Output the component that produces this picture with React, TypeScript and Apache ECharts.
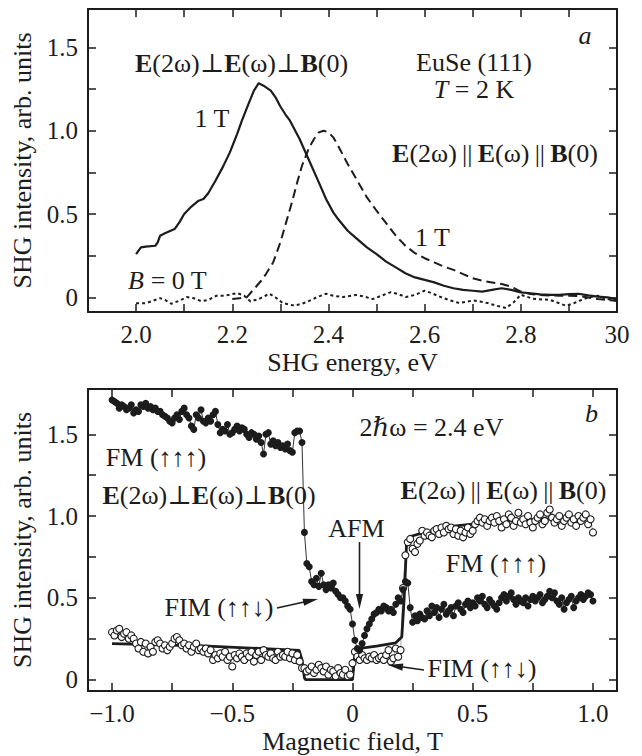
import React, { useEffect, useRef } from 'react';
import * as echarts from 'echarts';

const INK = '#1c1c1c';
const FONT = 'Liberation Serif, Times New Roman, DejaVu Serif, serif';

// ---------- Panel a: SHG spectra ----------
const energyTickValues = [1.9, 2.0, 2.1, 2.2, 2.3, 2.4, 2.5, 2.6, 2.7, 2.8, 2.9, 3.0];
const energyLabelValues = [2.0, 2.2, 2.4, 2.6, 2.8, 3.0];
const energyLabels = ['2.0', '2.2', '2.4', '2.6', '2.8', '30'];
const intensityTickValues = [0, 0.25, 0.5, 0.75, 1.0, 1.25, 1.5];
const intensityLabelValues = [0, 0.5, 1.0, 1.5];
const intensityLabels = ['0', '0.5', '1.0', '1.5'];

const perp1T: [number, number][] = [
  [2.0, 0.26], [2.01, 0.3], [2.02, 0.305], [2.04, 0.31], [2.045, 0.33], [2.05, 0.37], [2.06, 0.385],
  [2.08, 0.41], [2.09, 0.45], [2.1, 0.5], [2.115, 0.545], [2.13, 0.58], [2.14, 0.59], [2.15, 0.625],
  [2.165, 0.7], [2.18, 0.78], [2.195, 0.87], [2.21, 0.98], [2.22, 1.06], [2.235, 1.17], [2.245, 1.24],
  [2.255, 1.285], [2.265, 1.27], [2.28, 1.24], [2.29, 1.2], [2.3, 1.145], [2.31, 1.1], [2.32, 1.06],
  [2.34, 0.95], [2.36, 0.82], [2.38, 0.69], [2.395, 0.59], [2.41, 0.51], [2.42, 0.47], [2.44, 0.4],
  [2.46, 0.35], [2.48, 0.3], [2.5, 0.26], [2.52, 0.215], [2.54, 0.18], [2.56, 0.145], [2.58, 0.12],
  [2.6, 0.105], [2.62, 0.09], [2.64, 0.07], [2.66, 0.055], [2.68, 0.045], [2.7, 0.04], [2.72, 0.035],
  [2.74, 0.045], [2.76, 0.055], [2.78, 0.045], [2.8, 0.03], [2.82, 0.025], [2.84, 0.018], [2.86, 0.015],
  [2.88, 0.015], [2.9, 0.02], [2.92, 0.022], [2.94, 0.012], [2.96, 0.005], [2.98, 0.0], [3.0, -0.01],
];

const par1T: [number, number][] = [
  [2.2, -0.01], [2.215, -0.005], [2.23, 0.0], [2.245, 0.05], [2.26, 0.1], [2.27, 0.14], [2.285, 0.21],
  [2.3, 0.33], [2.312, 0.45], [2.325, 0.58], [2.335, 0.69], [2.345, 0.79], [2.36, 0.9], [2.37, 0.95],
  [2.38, 0.99], [2.39, 1.0], [2.4, 0.99], [2.41, 0.96], [2.42, 0.91], [2.44, 0.8], [2.46, 0.7],
  [2.48, 0.6], [2.5, 0.52], [2.52, 0.445], [2.54, 0.37], [2.56, 0.31], [2.58, 0.265], [2.6, 0.235],
  [2.62, 0.21], [2.64, 0.185], [2.66, 0.165], [2.68, 0.14], [2.7, 0.115], [2.72, 0.1], [2.74, 0.09],
  [2.76, 0.08], [2.78, 0.065], [2.8, 0.035], [2.82, 0.02], [2.84, 0.015], [2.86, 0.012], [2.88, 0.01],
  [2.9, 0.01], [2.92, 0.008], [2.94, 0.0], [2.96, -0.01], [3.0, -0.02],
];

const zeroField: [number, number][] = [
  [2.0, -0.035], [2.02, -0.035], [2.035, -0.02], [2.05, -0.004], [2.06, -0.015], [2.073, -0.038],
  [2.09, -0.02], [2.105, 0.002], [2.12, -0.005], [2.135, -0.022], [2.15, -0.015], [2.167, 0.01],
  [2.185, 0.01], [2.2, 0.02], [2.21, 0.026], [2.225, 0.01], [2.238, -0.024], [2.255, -0.01],
  [2.277, 0.022], [2.29, 0.0], [2.305, -0.034], [2.33, -0.05], [2.353, -0.03], [2.375, 0.0],
  [2.395, 0.022], [2.41, 0.01], [2.43, 0.002], [2.457, 0.015], [2.475, 0.005], [2.492, -0.01],
  [2.51, 0.01], [2.53, 0.032], [2.545, 0.02], [2.561, 0.002], [2.58, 0.015], [2.6, 0.04],
  [2.615, 0.025], [2.63, 0.006], [2.65, -0.015], [2.672, -0.034], [2.69, -0.025], [2.7, -0.018],
  [2.715, -0.025], [2.731, -0.034], [2.75, -0.05], [2.769, -0.064], [2.785, -0.03], [2.8, 0.016],
  [2.825, -0.008], [2.845, -0.012], [2.86, -0.014], [2.88, -0.035], [2.894, -0.05], [2.91, -0.035],
  [2.922, -0.02], [2.94, 0.0], [2.96, 0.01], [2.98, -0.01], [3.0, -0.02],
];

// ---------- Panel b: field dependence ----------
const fieldTickValues = [-1.0, -0.75, -0.5, -0.25, 0, 0.25, 0.5, 0.75, 1.0];
const fieldLabelValues = [-1.0, -0.5, 0, 0.5, 1.0];
const fieldLabels = ['\u22121.0', '\u22120.5', '0', '0.5', '1.0'];
const FIELD_START = -1.0;
const FIELD_STEP = 0.01;

// E(2w) perp E(w) perp B(0), filled circles
const perpField: number[] = [
  1.71, 1.70, 1.69, 1.66, 1.68, 1.67, 1.65, 1.66, 1.68, 1.63, 1.65,
  1.64, 1.68, 1.67, 1.69, 1.66, 1.67, 1.65, 1.66, 1.64, 1.64,
  1.62, 1.61, 1.60, 1.58, 1.57, 1.60, 1.62, 1.59, 1.64, 1.66,
  1.62, 1.60, 1.55, 1.53, 1.62, 1.60, 1.65, 1.58, 1.57, 1.60,
  1.58, 1.62, 1.64, 1.56, 1.51, 1.53, 1.52, 1.56, 1.50, 1.51,
  1.53, 1.55, 1.52, 1.54, 1.53, 1.50, 1.48, 1.51, 1.50, 1.47,
  1.49, 1.45, 1.38, 1.50, 1.51, 1.44, 1.46, 1.43, 1.45, 1.42,
  1.43, 1.41, 1.44, 1.40, 1.39, 1.51, 1.52, 1.52,
  1.45,
  0.90, 0.71, 0.69, 0.60, 0.58, 0.62, 0.57, 0.65, 0.58, 0.55,
  0.58, 0.56, 0.59, 0.54, 0.52, 0.50, 0.50, 0.48, 0.45, 0.43,
  0.34,
  0.24, 0.19, 0.18, 0.22, 0.27, 0.31, 0.34, 0.37, 0.40, 0.41,
  0.43, 0.42, 0.45, 0.44, 0.42, 0.43, 0.41, 0.46, 0.50, 0.48,
  0.55, 0.60, 0.59, 0.44, 0.35, 0.39, 0.36, 0.40, 0.38, 0.37,
  0.42, 0.39, 0.45, 0.41, 0.44, 0.38, 0.43, 0.46, 0.40, 0.42,
  0.44, 0.39, 0.45, 0.47, 0.43, 0.41, 0.46, 0.48, 0.44, 0.47,
  0.45, 0.50, 0.48, 0.51, 0.46, 0.44, 0.49, 0.47, 0.45, 0.43,
  0.47, 0.50, 0.52, 0.48, 0.51, 0.53, 0.49, 0.46, 0.50, 0.48,
  0.47, 0.50, 0.45, 0.49, 0.51, 0.48, 0.50, 0.52, 0.47, 0.49,
  0.51, 0.54, 0.50, 0.53, 0.48, 0.46, 0.50, 0.43, 0.47, 0.49,
  0.51, 0.44, 0.48, 0.50, 0.52, 0.49, 0.51, 0.53, 0.52, 0.48,
];

// E(2w) || E(w) || B(0), open circles
const parField: number[] = [
  0.29, 0.27, 0.30, 0.31, 0.26, 0.28, 0.29, 0.25, 0.27, 0.25, 0.22,
  0.19, 0.23, 0.17, 0.22, 0.16, 0.20, 0.17, 0.23, 0.24, 0.22,
  0.19, 0.21, 0.18, 0.20, 0.22, 0.25, 0.26, 0.24, 0.21, 0.22,
  0.19, 0.21, 0.17, 0.20, 0.22, 0.18, 0.19, 0.17, 0.19, 0.16,
  0.18, 0.12, 0.15, 0.13, 0.16, 0.14, 0.17, 0.12, 0.14, 0.08,
  0.15, 0.13, 0.16, 0.14, 0.12, 0.16, 0.14, 0.17, 0.11, 0.15,
  0.17, 0.12, 0.18, 0.15, 0.14, 0.16, 0.13, 0.12, 0.17, 0.14,
  0.15, 0.14, 0.17, 0.13, 0.16, 0.12, 0.15, 0.11,
  0.07,
  0.07, 0.05, 0.06, 0.08, 0.04, 0.06, 0.09, 0.07, 0.05, 0.08,
  0.03, 0.06, 0.05, 0.02, 0.07, 0.04, 0.03, 0.06, 0.02, 0.03,
  0.10,
  0.17, 0.14, 0.12, 0.15, 0.13, 0.12, 0.14, 0.13, 0.15, 0.12,
  0.13, 0.14, 0.12, 0.15, 0.18, 0.11, 0.13, 0.19, 0.14, 0.18,
  0.56, 0.76, 0.84, 0.86, 0.80, 0.78, 0.83, 0.85, 0.91, 0.88,
  0.90, 0.88, 0.87, 0.91, 0.92, 0.89, 0.93, 0.90, 0.94, 0.92,
  0.93, 0.89, 0.92, 0.88, 0.91, 0.87, 0.90, 0.93, 0.89, 0.91,
  0.95, 0.97, 0.99, 0.96, 0.98, 0.94, 0.97, 0.99, 0.96, 1.00,
  0.97, 0.93, 0.98, 0.95, 1.01, 0.99, 0.94, 0.97, 1.02, 0.96,
  0.98, 0.95, 1.00, 0.96, 0.93, 0.97, 0.99, 1.01, 0.95, 0.97,
  1.02, 1.04, 0.99, 0.96, 0.98, 1.00, 0.94, 0.97, 0.99, 1.01,
  0.96, 0.98, 0.94, 1.00, 0.97, 0.99, 1.01, 0.95, 0.98, 0.90,
];

// fitted curve for the parallel geometry
const parFit: [number, number][] = [
  [-1.0, 0.22], [-0.6, 0.205], [-0.222, 0.178], [-0.21, 0.12], [-0.2, 0.01], [-0.195, 0.0],
  [0.0, 0.0], [0.005, 0.08], [0.01, 0.16], [0.03, 0.19], [0.1, 0.205], [0.18, 0.225],
  [0.205, 0.26], [0.215, 0.5], [0.225, 0.84], [0.24, 0.875], [0.3, 0.9], [0.4, 0.935],
  [0.5, 0.95], [0.6, 0.965], [0.7, 0.975], [0.85, 0.985], [1.0, 0.99],
];

const toPairs = (vals: number[]): [number, number][] =>
  vals.map((v, i) => [+(FIELD_START + i * FIELD_STEP).toFixed(2), v]);

function labelFor(values: number[], labels: string[]) {
  return (v: number) => {
    const i = values.findIndex((t) => Math.abs(t - v) < 1e-6);
    return i >= 0 ? labels[i] : '';
  };
}

const tickStyle = { fontFamily: FONT, fontSize: 25, color: INK };
const nameStyle = { fontFamily: FONT, fontSize: 26, color: INK };

function makeX(gridIndex: number, min: number, max: number, ticks: number[], lv: number[] | null, labels: string[] | null, name: string, pos: 'top' | 'bottom') {
  const main = pos === 'bottom';
  return {
    type: 'value', gridIndex, min, max, position: pos,
    axisLine: { show: true, onZero: false, lineStyle: { color: INK, width: 2 } },
    axisTick: { show: true, inside: true, length: 8, customValues: ticks, lineStyle: { color: INK, width: 1.5 } },
    axisLabel: main
      ? { show: true, customValues: lv, formatter: labelFor(lv as number[], labels as string[]), margin: 10, ...tickStyle }
      : { show: false },
    splitLine: { show: false },
    name: main ? name : '', nameLocation: 'middle', nameGap: 37, nameTextStyle: nameStyle,
  };
}

function makeY(gridIndex: number, min: number, max: number, pos: 'left' | 'right') {
  const main = pos === 'left';
  return {
    type: 'value', gridIndex, min, max, position: pos,
    axisLine: { show: true, onZero: false, lineStyle: { color: INK, width: 2 } },
    axisTick: { show: true, inside: true, length: 8, customValues: intensityTickValues, lineStyle: { color: INK, width: 1.5 } },
    axisLabel: main
      ? { show: true, customValues: intensityLabelValues, formatter: labelFor(intensityLabelValues, intensityLabels), margin: 10, ...tickStyle }
      : { show: false },
    splitLine: { show: false },
    name: main ? 'SHG intensity, arb. units' : '', nameLocation: 'middle', nameGap: 45, nameTextStyle: nameStyle,
  };
}

const richBase = { fontFamily: FONT, fontSize: 26, fill: INK, color: INK, lineHeight: 22 };
const rich = {
  n: { ...richBase },
  b: { ...richBase, fontWeight: 'bold' },
  i: { ...richBase, fontStyle: 'italic' },
};

function txt(x: number, y: number, text: string) {
  return {
    type: 'text', x, y, z: 100,
    style: {
      text, rich, fill: INK, font: `26px ${FONT}`, lineHeight: 22,
      align: 'center', verticalAlign: 'middle', textAlign: 'center', textVerticalAlign: 'middle',
    },
  };
}

function arrow(x1: number, y1: number, x2: number, y2: number) {
  const dx = x2 - x1, dy = y2 - y1;
  const L = Math.hypot(dx, dy);
  const ux = dx / L, uy = dy / L;
  const hl = 15, hw = 3.6;
  const bx = x2 - ux * hl, by = y2 - uy * hl;
  return [
    { type: 'line', z: 100, shape: { x1, y1, x2: bx + ux * 2, y2: by + uy * 2 }, style: { stroke: INK, lineWidth: 1.6 } },
    {
      type: 'polygon', z: 100,
      shape: { points: [[x2, y2], [bx - uy * hw, by + ux * hw], [bx + uy * hw, by - ux * hw]] },
      style: { fill: INK },
    },
  ];
}

const PERP = '{b|E}{n|(2\u03c9)\u22a5}{b|E}{n|(\u03c9)\u22a5}{b|B}{n|(0)}';
const PAR = '{b|E}{n|(2\u03c9)\u2009||\u2009}{b|E}{n|(\u03c9)\u2009||\u2009}{b|B}{n|(0)}';

export default function App() {
  const ref = useRef<HTMLDivElement>(null);
  useEffect(() => {
    document.body.style.margin = '0';
    const chart = echarts.init(ref.current as HTMLDivElement, null, { renderer: 'svg' });
    chart.setOption({
      animation: false,
      backgroundColor: '#ffffff',
      grid: [
        { left: 88, top: 9, right: 25, bottom: 444 },
        { left: 88, top: 389, right: 25, bottom: 65 },
      ],
      xAxis: [
        makeX(0, 1.9, 3.0, energyTickValues, energyLabelValues, energyLabels, 'SHG energy, eV', 'bottom'),
        makeX(0, 1.9, 3.0, energyTickValues, null, null, '', 'top'),
        makeX(1, -1.1, 1.1, fieldTickValues, fieldLabelValues, fieldLabels, 'Magnetic field, T', 'bottom'),
        makeX(1, -1.1, 1.1, fieldTickValues, null, null, '', 'top'),
      ],
      yAxis: [
        makeY(0, -0.0875, 1.73, 'left'),
        makeY(0, -0.0875, 1.73, 'right'),
        makeY(1, -0.07, 1.777, 'left'),
        makeY(1, -0.07, 1.777, 'right'),
      ],
      series: [
        {
          type: 'line', xAxisIndex: 0, yAxisIndex: 0, data: zeroField, showSymbol: false,
          lineStyle: { color: INK, width: 2, type: [3, 3] },
        },
        {
          type: 'line', xAxisIndex: 0, yAxisIndex: 0, data: par1T, showSymbol: false,
          lineStyle: { color: INK, width: 2, type: [9, 5] },
        },
        {
          type: 'line', xAxisIndex: 0, yAxisIndex: 0, data: perp1T, showSymbol: false,
          lineStyle: { color: INK, width: 2.2 },
        },
        {
          type: 'line', xAxisIndex: 2, yAxisIndex: 2, data: toPairs(parField),
          symbol: 'circle', symbolSize: 7, showAllSymbol: true,
          itemStyle: { color: '#ffffff', borderColor: INK, borderWidth: 1.1 },
          lineStyle: { color: '#777', width: 0.6 },
        },
        {
          type: 'line', xAxisIndex: 2, yAxisIndex: 2, data: parFit, showSymbol: false,
          lineStyle: { color: INK, width: 2.8 },
        },
        {
          type: 'line', xAxisIndex: 2, yAxisIndex: 2, data: toPairs(perpField),
          symbol: 'circle', symbolSize: 7, showAllSymbol: true,
          itemStyle: { color: INK, borderColor: INK, borderWidth: 0 },
          lineStyle: { color: INK, width: 0.9 },
        },
      ],
      graphic: [
        txt(241.5, 63, PERP),
        txt(212, 118, '{n|1 T}'),
        txt(474, 62, '{n|EuSe (111)}'),
        txt(474, 89, '{i|T}{n| = 2 K}'),
        txt(585, 35, '{i|a}'),
        txt(495, 153, PAR),
        txt(432.5, 237, '{n|1 T}'),
        txt(167.5, 280, '{i|B}{n| = 0 T}'),
        txt(591.5, 413, '{i|b}'),
        txt(431.5, 427, '{n|2}{i|\u210f}{n|\u03c9 = 2.4 eV}'),
        txt(503.5, 490, PAR),
        txt(496, 563, '{n|FM (\u2191\u2191\u2191)}'),
        txt(156, 457, '{n|FM (\u2191\u2191\u2191)}'),
        txt(209, 495, PERP),
        txt(356.5, 528, '{n|AFM}'),
        txt(219, 607, '{n|FIM (\u2191\u2191\u2193)}'),
        txt(482, 668, '{n|FIM (\u2191\u2191\u2193)}'),
        ...arrow(359.5, 542, 359.5, 609),
        ...arrow(277, 608, 318, 599),
        ...arrow(424, 670, 388, 665),
      ],
    });
    return () => chart.dispose();
  }, []);
  return <div ref={ref} style={{ width: 642, height: 756 }} />;
}
